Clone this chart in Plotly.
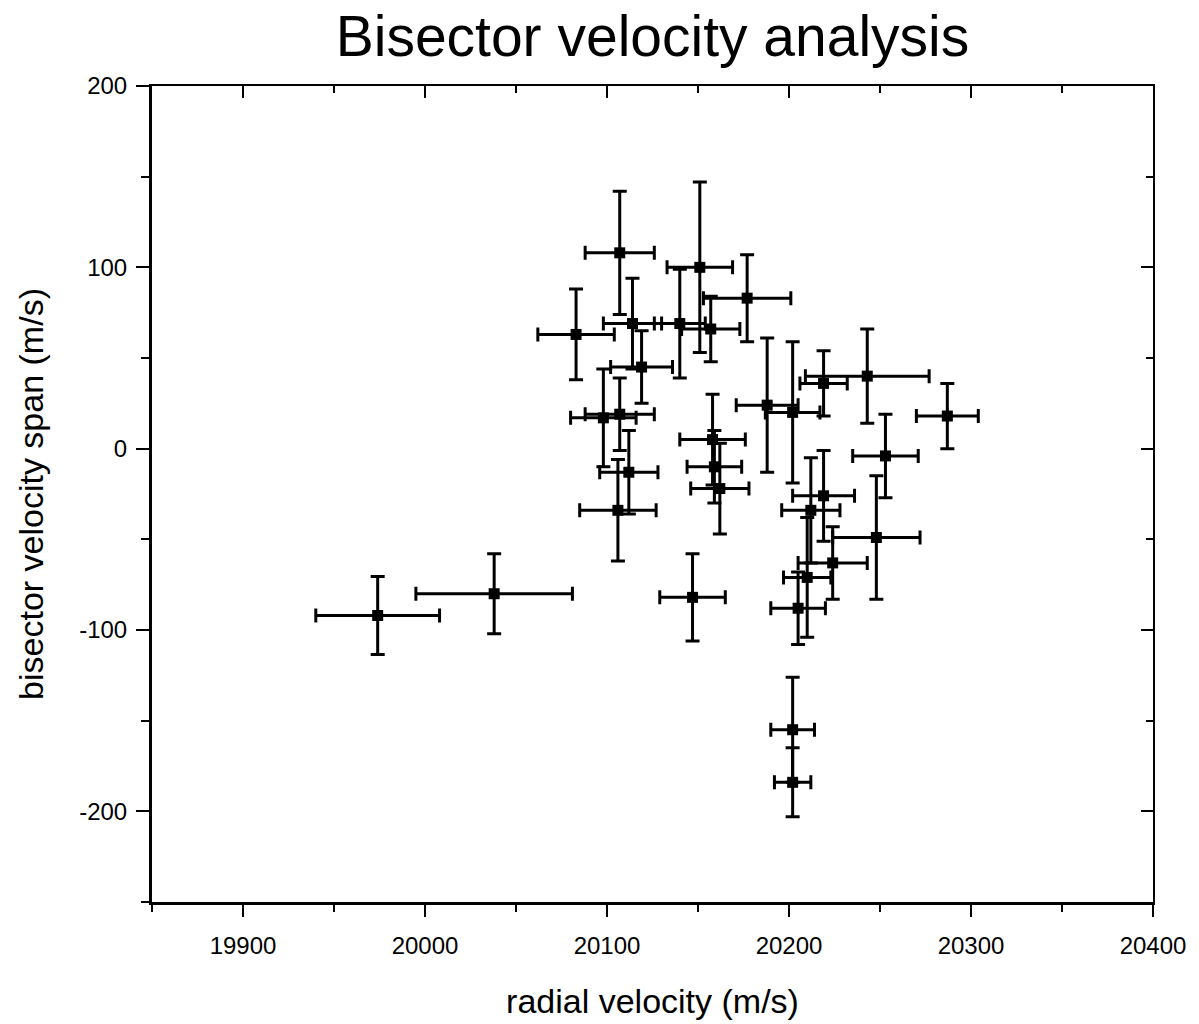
import plotly.graph_objects as go

# radial velocity (m/s), bisector velocity span (m/s) and their errors
rv = [19974, 20038, 20107, 20151, 20177, 20083, 20114, 20140, 20157, 20119,
      20098, 20107, 20112, 20106, 20158, 20159, 20162, 20188, 20202, 20219,
      20243, 20287, 20253, 20219, 20212, 20248, 20224, 20210, 20205, 20202,
      20202, 20147]
bvs = [-92, -80, 108, 100, 83, 63, 69, 69, 66, 45,
       17, 19, -13, -34, 5, -10, -22, 24, 20, 36,
       40, 18, -4, -26, -34, -49, -63, -71, -88, -155,
       -184, -82]
rv_err = [34, 43, 19, 18, 24, 21, 16, 14, 16, 17,
          18, 19, 16, 21, 18, 15, 16, 17, 15, 13,
          34, 17, 18, 17, 16, 24, 19, 13, 15, 12,
          10, 18]
bvs_err = [21.5, 22, 34, 47, 24, 25, 25, 30, 18, 20,
           27, 20, 23, 28, 25, 20, 25, 37, 39, 18,
           26, 18, 23, 25, 29, 34, 20, 33, 20, 29,
           19, 24]

x_ticks = [19900, 20000, 20100, 20200, 20300, 20400]
x_labels = ["19900", "20000", "20100", "20200", "20300", "20400"]
y_ticks = [-200, -100, 0, 100, 200]
y_labels = ["-200", "-100", "0", "100", "200"]

FONT = "Liberation Sans, Arial, sans-serif"

fig = go.Figure()
fig.add_trace(go.Scatter(
    x=rv, y=bvs, mode="markers",
    marker=dict(symbol="square", size=11, color="black"),
    error_x=dict(type="data", array=rv_err, color="black", thickness=3, width=7),
    error_y=dict(type="data", array=bvs_err, color="black", thickness=3, width=7),
    showlegend=False, hoverinfo="x+y",
))
# dummy trace for mirrored (top/right) axes
fig.add_trace(go.Scatter(x=[None], y=[None], xaxis="x2", yaxis="y2",
                         showlegend=False, hoverinfo="skip"))

common = dict(showgrid=False, zeroline=False, showline=True, linecolor="black",
              tickcolor="black", automargin=False,
              tickfont=dict(family=FONT, size=24, color="black"))

fig.update_layout(
    width=1199, height=1024,
    paper_bgcolor="white", plot_bgcolor="white",
    margin=dict(l=152, r=46, t=86, b=122),
    title=dict(text="Bisector velocity analysis",
               font=dict(family=FONT, size=57, color="black"),
               x=0.5, xref="paper", xanchor="center", automargin=False,
               y=1 - 16 / 1024, yref="container", yanchor="top"),
    xaxis=dict(range=[19850, 20400], tickvals=x_ticks, ticktext=x_labels,
               ticks="outside", ticklen=12, tickwidth=2, linewidth=3,
               minor=dict(dtick=50, tick0=0, ticks="outside", ticklen=7,
                          tickwidth=2, tickcolor="black"),
               title=dict(text="radial velocity (m/s)",
                          font=dict(family=FONT, size=34, color="black"),
                          standoff=32),
               ticklabelstandoff=8,
               **common),
    yaxis=dict(range=[-250, 200], tickvals=y_ticks, ticktext=y_labels,
               ticks="outside", ticklen=13, tickwidth=2, linewidth=3,
               minor=dict(dtick=50, tick0=0, ticks="outside", ticklen=8,
                          tickwidth=2, tickcolor="black"),
               title=dict(text="bisector velocity span (m/s)",
                          font=dict(family=FONT, size=34, color="black"),
                          standoff=26),
               ticklabelstandoff=4,
               **common),
    xaxis2=dict(overlaying="x", side="top", matches="x", range=[19850, 20400],
                tickvals=x_ticks, ticks="inside", ticklen=12, tickwidth=2,
                showticklabels=False, linewidth=2,
                minor=dict(dtick=50, tick0=0, ticks="inside", ticklen=7,
                           tickwidth=2, tickcolor="black"),
                **common),
    yaxis2=dict(overlaying="y", side="right", matches="y", range=[-250, 200],
                tickvals=y_ticks, ticks="inside", ticklen=12, tickwidth=2,
                showticklabels=False, linewidth=2,
                minor=dict(dtick=50, tick0=0, ticks="inside", ticklen=7,
                           tickwidth=2, tickcolor="black"),
                **common),
)

fig.write_html("out.html",
               config={"displayModeBar": False},
               post_script="document.body.style.margin='0px';"
                           "document.body.style.padding='0px';")
